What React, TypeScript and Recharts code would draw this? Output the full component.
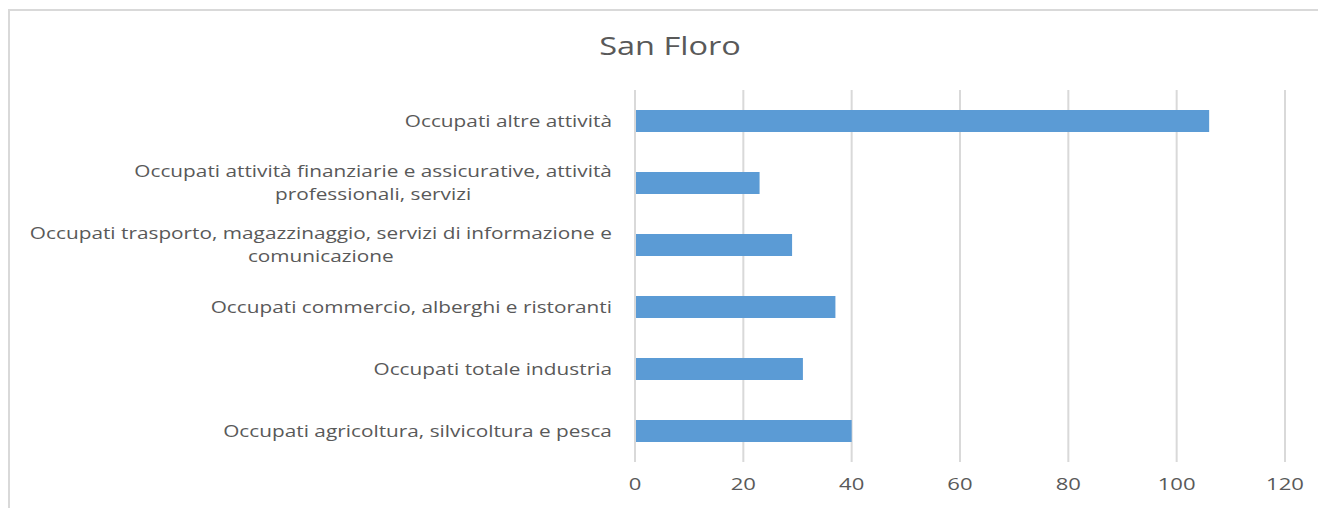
import React from "react";
import { Bar, BarChart, CartesianGrid, XAxis, YAxis } from "recharts";

const CATEGORIES = [
  "Occupati altre attività",
  "Occupati attività finanziarie e assicurative, attività professionali, servizi",
  "Occupati trasporto, magazzinaggio, servizi di informazione e comunicazione",
  "Occupati commercio, alberghi e ristoranti",
  "Occupati totale industria",
  "Occupati agricoltura, silvicoltura e pesca",
];
const OCCUPATI = [106, 23, 29, 37, 31, 40];
const X_TICKS = [0, 20, 40, 60, 80, 100, 120];

const data = CATEGORIES.map((name, i) => ({ name, value: OCCUPATI[i] }));

// the reference text is stretched wide, so every label gets a horizontal scale
const FONT = "'Open Sans', sans-serif";
const STRETCH = 1.3;
const LABEL_SIZE = 16;
const WRAP = 595;

let ctx: CanvasRenderingContext2D | null = null;
function measure(s: string) {
  if (!ctx) ctx = document.createElement("canvas").getContext("2d");
  if (!ctx) return s.length * 9;
  ctx.font = `${LABEL_SIZE}px 'Open Sans'`;
  return ctx.measureText(s).width * STRETCH;
}

function wrap(text: string) {
  const words = text.split(" ");
  const lines: string[] = [];
  let cur = "";
  for (const w of words) {
    const next = cur ? cur + " " + w : w;
    if (cur && measure(next) > WRAP) {
      lines.push(cur);
      cur = w;
    } else cur = next;
  }
  if (cur) lines.push(cur);
  return lines;
}

function CategoryTick({ x, y, payload }: any) {
  const lines = wrap(payload.value);
  const blockW = Math.max(...lines.map(measure));
  const cx = x - 15 - blockW / 2;
  const lh = 23;
  const y0 = y - ((lines.length - 1) * lh) / 2;
  return (
    <g>
      {lines.map((l, i) => (
        <text
          key={i}
          transform={`translate(${cx},${y0 + i * lh}) scale(${STRETCH},1)`}
          dy="0.35em"
          textAnchor="middle"
          fill="#595959"
          fontSize={LABEL_SIZE}
          fontFamily={FONT}
        >
          {l}
        </text>
      ))}
    </g>
  );
}

function ValueTick({ x, y, payload }: any) {
  return (
    <text
      transform={`translate(${x},${y}) scale(${STRETCH},1)`}
      dy="0.71em"
      textAnchor="middle"
      fill="#595959"
      fontSize={17}
      fontFamily={FONT}
    >
      {payload.value}
    </text>
  );
}

export default function App() {
  return (
    <div style={{ position: "absolute", left: 0, top: 0, width: 1318, height: 508, overflow: "hidden", background: "#fff" }}>
      <div
        style={{
          position: "absolute",
          left: 8,
          top: 9,
          width: 1330,
          height: 520,
          borderTop: "2px solid #d9d9d9",
          borderLeft: "2px solid #d9d9d9",
        }}
      />
      <div
        style={{
          position: "absolute",
          left: 0,
          width: 1340,
          top: 28,
          textAlign: "center",
          fontFamily: FONT,
          fontSize: 25,
          color: "#595959",
          transform: `scaleX(${STRETCH})`,
          transformOrigin: "670px 0",
        }}
      >
        San Floro
      </div>
      <div style={{ position: "absolute", left: 0, top: 0 }}>
        <BarChart
          width={1318}
          height={508}
          data={data}
          layout="vertical"
          margin={{ top: 90, right: 33, bottom: 0, left: 15 }}
          barSize={22}
        >
          <CartesianGrid horizontal={false} stroke="#d9d9d9" strokeWidth={2} />
          <XAxis
            type="number"
            domain={[0, 120]}
            ticks={X_TICKS}
            axisLine={false}
            tickLine={false}
            height={46}
            tickMargin={10}
            tick={<ValueTick />}
          />
          <YAxis
            type="category"
            dataKey="name"
            width={620}
            axisLine={{ stroke: "#d9d9d9", strokeWidth: 2 }}
            tickLine={false}
            tick={<CategoryTick />}
            interval={0}
          />
          <Bar dataKey="value" fill="#5b9bd5" isAnimationActive={false} />
        </BarChart>
      </div>
    </div>
  );
}
